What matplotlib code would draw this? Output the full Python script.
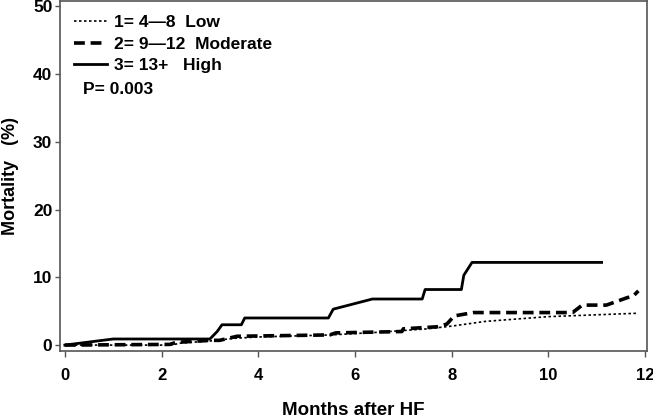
import matplotlib
matplotlib.use("Agg")
import matplotlib.pyplot as plt

plt.rcParams['font.family'] = ['Liberation Sans', 'DejaVu Sans']

# Data
low_x = [0, 2.2, 2.4, 3.0, 3.5, 4.0, 5.5, 6.5, 7.5, 8.0, 8.7, 10.0, 11.85]
low_y = [0, 0, 0.3, 0.6, 1.0, 1.2, 1.5, 1.9, 2.4, 2.8, 3.5, 4.2, 4.7]

mod_x = [0, 2.17, 2.3, 3.0, 3.2, 3.56, 5.48, 5.6, 6.97, 7.0, 7.7, 7.9, 8.05, 8.45, 10.5, 10.7, 11.2, 11.63, 11.75, 11.86]
mod_y = [0, 0.1, 0.4, 0.7, 0.7, 1.3, 1.5, 1.8, 2.0, 2.4, 2.7, 3.1, 4.3, 4.8, 4.8, 5.9, 5.9, 7.0, 7.2, 8.0]

high_x = [0, 1.0, 3.0, 3.15, 3.25, 3.65, 3.72, 5.45, 5.55, 6.36, 7.39, 7.45, 8.2, 8.25, 8.42, 11.1]
high_y = [0, 0.9, 0.9, 2.0, 3.0, 3.0, 4.0, 4.0, 5.3, 6.8, 6.8, 8.2, 8.2, 10.3, 12.2, 12.2]

labels = ["1= 4\u20148  Low", "2= 9\u201412  Moderate", "3= 13+   High"]
x_ticks = [0, 2, 4, 6, 8, 10, 12]
y_ticks = [0, 10, 20, 30, 40, 50]
p_text = "P= 0.003"

fig = plt.figure(figsize=(6.53, 4.18), dpi=100)
ax = fig.add_axes([0.0919, 0.160, 0.899, 0.838])

ax.plot(low_x, low_y, color='black', lw=1.2, linestyle=(0, (1.5, 1.5)), label=labels[0])
ax.plot(mod_x, mod_y, color='black', lw=2.6, linestyle=(0, (3, 1.6)), label=labels[1])
ax.plot(high_x, high_y, color='black', lw=2.0, linestyle='-', label=labels[2])

ax.set_xlim(-0.10, 12.04)
ax.set_ylim(-0.89, 50.8)
ax.set_xticks(x_ticks)
ax.set_yticks(y_ticks)
ax.set_xticklabels([str(t) for t in x_ticks], fontsize=12, fontweight='bold')
ax.set_yticklabels([str(t) for t in y_ticks], fontsize=12.5, fontweight='bold')
ax.tick_params(direction='out', length=4.5, width=1, color='#555555')
ax.tick_params(axis='x', pad=8)
ax.tick_params(axis='y', length=3.5, pad=2)
for s in ax.spines.values():
    s.set_color('#555555')
    s.set_linewidth(1.2)

ax.set_xlabel("Months after HF", fontsize=13.5, fontweight='bold', labelpad=13)
ax.set_ylabel("Mortality   (%)", fontsize=13, fontweight='bold', labelpad=10)

leg = ax.legend(loc='upper left', frameon=False, handlelength=1.9,
                handletextpad=0.4, borderaxespad=0.45, borderpad=0.35,
                labelspacing=0.38, prop={'weight': 'bold', 'size': 12.5})
ax.text(0.039, 0.748, p_text, transform=ax.transAxes, fontsize=12.5,
        fontweight='bold', va='center', ha='left')

fig.savefig("out.png", dpi=100)
